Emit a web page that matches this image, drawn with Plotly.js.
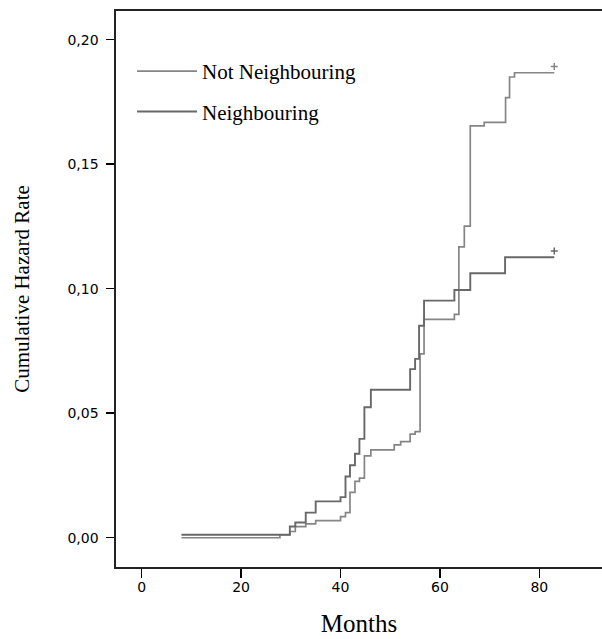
<!DOCTYPE html>
<html><head><meta charset="utf-8">
<script src="https://cdn.plot.ly/plotly-3.0.1.min.js"></script>
<style>html,body{margin:0;padding:0;background:#fff}</style>
</head><body>
<div id="chart" style="width:602px;height:639px"></div>
<script>
// ---- data ----
const seriesNames = ['Not Neighbouring', 'Neighbouring'];

const monthsNot = [8.0, 27.8, 29.8, 30.9, 33.0, 35.0, 40.0, 41.0, 41.9, 42.9, 43.8, 44.8, 46.1, 50.8, 52.1, 54.0, 55.0, 56.0, 56.8, 62.9, 63.8, 64.9, 66.1, 68.9, 73.2, 74.0, 75.0, 83.0];
const hazardNot = [0.0000, 0.0012, 0.0025, 0.0045, 0.0056, 0.0069, 0.0085, 0.0101, 0.0182, 0.0226, 0.0239, 0.0329, 0.0353, 0.0373, 0.0386, 0.0416, 0.0426, 0.0738, 0.0877, 0.0897, 0.1168, 0.1251, 0.1654, 0.1668, 0.1767, 0.1850, 0.1867, 0.1867];

const monthsNb = [8.0, 29.8, 30.9, 33.0, 35.0, 40.0, 41.0, 41.9, 42.9, 43.8, 44.8, 46.1, 54.0, 55.0, 55.8, 56.8, 62.9, 66.1, 73.1, 83.0];
const hazardNb = [0.0012, 0.0045, 0.0061, 0.0101, 0.0146, 0.0163, 0.0246, 0.0291, 0.0337, 0.0397, 0.0524, 0.0594, 0.0677, 0.0718, 0.0851, 0.0952, 0.0995, 0.1062, 0.1126, 0.1126];

const censorNot = [83.0];
const censorNb = [83.0];

const xTickVals = [0, 20, 40, 60, 80];
const yTickVals = [0, 0.05, 0.10, 0.15, 0.20];

// ---- build ----
function censorY(times, months, hazard) {
  return times.map(t => {
    let v = hazard[0];
    for (let i = 0; i < months.length; i++) if (months[i] <= t) v = hazard[i];
    return v + 0.0025;
  });
}

const colNot = '#858585';
const colNb = '#686868';
const serif = 'Liberation Serif, Times New Roman, serif';
const sans = 'DejaVu Sans, Liberation Sans, sans-serif';

const traces = [
  {x: monthsNot, y: hazardNot, type: 'scatter', mode: 'lines', name: seriesNames[0],
   line: {shape: 'hv', color: colNot, width: 1.7}, legendgroup: 'a'},
  {x: monthsNb, y: hazardNb, type: 'scatter', mode: 'lines', name: seriesNames[1],
   line: {shape: 'hv', color: colNb, width: 1.9}, legendgroup: 'b'},
  {x: censorNot, y: censorY(censorNot, monthsNot, hazardNot), type: 'scatter', mode: 'markers',
   marker: {symbol: 'cross-thin', size: 5, line: {color: colNot, width: 1.5}}, showlegend: false, hoverinfo: 'skip'},
  {x: censorNb, y: censorY(censorNb, monthsNb, hazardNb), type: 'scatter', mode: 'markers',
   marker: {symbol: 'cross-thin', size: 5, line: {color: colNb, width: 1.5}}, showlegend: false, hoverinfo: 'skip'}
];

const layout = {
  width: 602, height: 639,
  margin: {l: 116, r: 0, t: 11, b: 72},
  paper_bgcolor: '#ffffff', plot_bgcolor: '#ffffff',
  separators: ',.',
  showlegend: true,
  legend: {x: 0.033, y: 0.928, xanchor: 'left', yanchor: 'top', bgcolor: 'rgba(0,0,0,0)',
           font: {family: serif, size: 21, color: '#000'},
           tracegroupgap: 10, traceorder: 'grouped', itemwidth: 60},
  xaxis: {
    range: [-5.17, 92.6], tickvals: xTickVals, ticktext: xTickVals.map(String),
    ticks: 'outside', ticklen: 9, tickwidth: 1.5, tickcolor: '#000',
    showline: true, linecolor: '#222', linewidth: 1.6, mirror: true,
    showgrid: false, zeroline: false,
    tickfont: {family: sans, size: 14, color: '#000'},
    ticklabelstandoff: -2,
    title: {text: 'Months', font: {family: serif, size: 25, color: '#000'}, standoff: 20}
  },
  yaxis: {
    range: [-0.01175, 0.2115], tickvals: yTickVals, tickformat: '.2f',
    ticks: 'outside', ticklen: 8, tickwidth: 1.5, tickcolor: '#000',
    showline: true, linecolor: '#222', linewidth: 1.6, mirror: false,
    showgrid: false, zeroline: false,
    tickfont: {family: sans, size: 14, color: '#000'},
    ticklabelstandoff: 5,
    title: {text: 'Cumulative Hazard Rate', font: {family: serif, size: 21, color: '#000'}, standoff: 32}
  }
};

Plotly.newPlot('chart', traces, layout, {displayModeBar: false, staticPlot: true});
</script>
</body></html>
